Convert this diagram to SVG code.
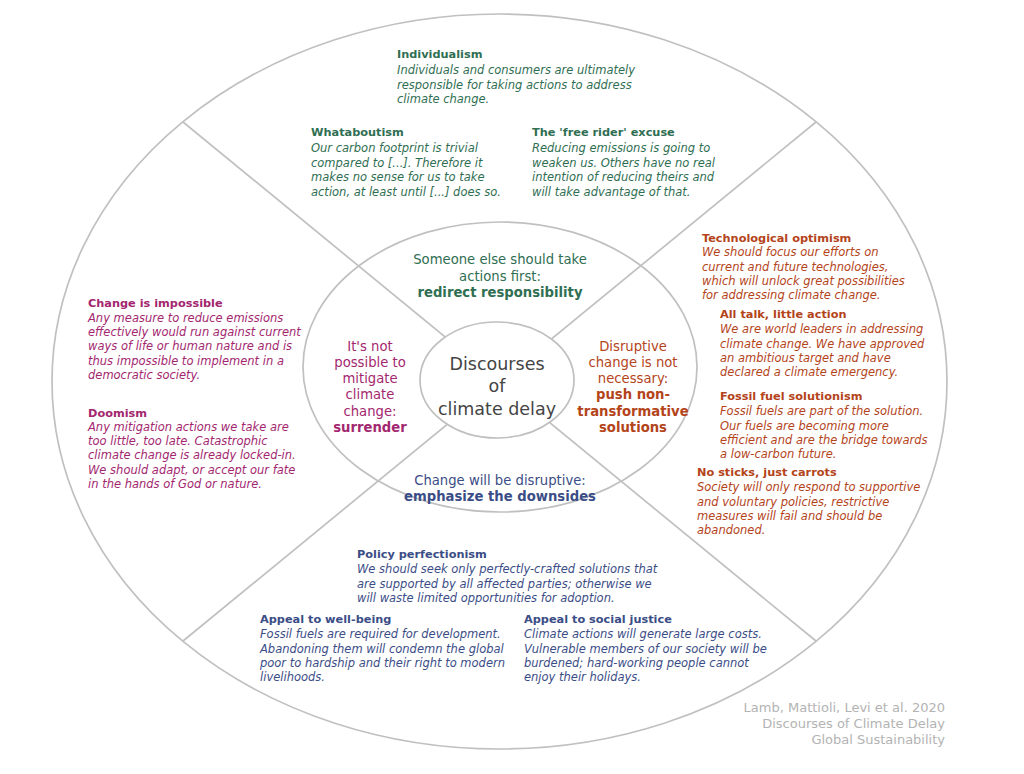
<svg xmlns="http://www.w3.org/2000/svg" width="1024" height="774" viewBox="0 0 1024 774">
<style>
text{font-family:"DejaVu Sans",Verdana,sans-serif}
.t{font-size:11.3px;font-weight:bold}
.b{font-size:11.5px;font-style:italic}
.g{fill:#2f6e52}
.m{fill:#a3276f}
.o{fill:#b4441a}
.u{fill:#3b4d86}
.c{font-size:13.2px;text-anchor:middle}
.bold{font-weight:bold}
.ln{stroke:#c0c0c0;stroke-width:1.7;fill:none}
.foot{font-size:13px;fill:#b3b3b3;text-anchor:end}
</style>
<rect width="1024" height="774" fill="#fff"/>
<g id="connectors">
<line class="ln" x1="183" y1="122" x2="816" y2="641"/>
<line class="ln" x1="816" y1="122" x2="183" y2="641"/>
</g>
<g id="outer"><ellipse class="ln" cx="499.5" cy="381.5" rx="447.5" ry="367.5"/></g>
<g id="middle"><ellipse class="ln" cx="500" cy="367" rx="197" ry="145"/></g>
<g id="center">
<ellipse class="ln" cx="497" cy="380" rx="77" ry="58" style="fill:#fff"/>
<text x="497" y="370" text-anchor="middle" font-size="17.5" fill="#444">Discourses</text>
<text x="497" y="392" text-anchor="middle" font-size="17.5" fill="#444">of</text>
<text x="497" y="415" text-anchor="middle" font-size="17.5" fill="#444">climate delay</text>
</g>
<g id="cat-redirect">
<text class="c g" x="500" y="264">Someone else should take</text>
<text class="c g" x="500" y="281">actions first:</text>
<text class="c g bold" x="500" y="297">redirect responsibility</text>
</g>
<g id="cat-surrender">
<text class="c m" x="370" y="351">It's not</text>
<text class="c m" x="370" y="367">possible to</text>
<text class="c m" x="370" y="383">mitigate</text>
<text class="c m" x="370" y="399">climate</text>
<text class="c m" x="370" y="416">change:</text>
<text class="c m bold" x="370" y="432">surrender</text>
</g>
<g id="cat-nontransformative">
<text class="c o" x="633" y="351">Disruptive</text>
<text class="c o" x="633" y="367">change is not</text>
<text class="c o" x="633" y="383">necessary:</text>
<text class="c o bold" x="633" y="399">push non-</text>
<text class="c o bold" x="633" y="416">transformative</text>
<text class="c o bold" x="633" y="432">solutions</text>
</g>
<g id="cat-downsides">
<text class="c u" x="500" y="485">Change will be disruptive:</text>
<text class="c u bold" x="500" y="501">emphasize the downsides</text>
</g>
<g id="individualism">
<text class="t g" x="397" y="58">Individualism</text>
<text class="b g" x="397" y="74">Individuals and consumers are ultimately</text>
<text class="b g" x="397" y="88.5">responsible for taking actions to address</text>
<text class="b g" x="397" y="103">climate change.</text>
</g>
<g id="whataboutism">
<text class="t g" x="311" y="136">Whataboutism</text>
<text class="b g" x="311" y="152">Our carbon footprint is trivial</text>
<text class="b g" x="311" y="166.5">compared to [...]. Therefore it</text>
<text class="b g" x="311" y="181">makes no sense for us to take</text>
<text class="b g" x="311" y="195.5">action, at least until [...] does so.</text>
</g>
<g id="free-rider">
<text class="t g" x="532" y="136">The 'free rider' excuse</text>
<text class="b g" x="532" y="152">Reducing emissions is going to</text>
<text class="b g" x="532" y="166.5">weaken us. Others have no real</text>
<text class="b g" x="532" y="181">intention of reducing theirs and</text>
<text class="b g" x="532" y="195.5">will take advantage of that.</text>
</g>
<g id="change-impossible">
<text class="t m" x="88" y="307">Change is impossible</text>
<text class="b m" x="88" y="321.5">Any measure to reduce emissions</text>
<text class="b m" x="88" y="335.5">effectively would run against current</text>
<text class="b m" x="88" y="350">ways of life or human nature and is</text>
<text class="b m" x="88" y="364.5">thus impossible to implement in a</text>
<text class="b m" x="88" y="378.5">democratic society.</text>
</g>
<g id="doomism">
<text class="t m" x="88" y="417">Doomism</text>
<text class="b m" x="88" y="430.5">Any mitigation actions we take are</text>
<text class="b m" x="88" y="445">too little, too late. Catastrophic</text>
<text class="b m" x="88" y="459">climate change is already locked-in.</text>
<text class="b m" x="88" y="473.5">We should adapt, or accept our fate</text>
<text class="b m" x="88" y="488">in the hands of God or nature.</text>
</g>
<g id="tech-optimism">
<text class="t o" x="702" y="242">Technological optimism</text>
<text class="b o" x="702" y="256">We should focus our efforts on</text>
<text class="b o" x="702" y="270.5">current and future technologies,</text>
<text class="b o" x="702" y="285">which will unlock great possibilities</text>
<text class="b o" x="702" y="299">for addressing climate change.</text>
</g>
<g id="all-talk">
<text class="t o" x="720" y="318">All talk, little action</text>
<text class="b o" x="720" y="333">We are world leaders in addressing</text>
<text class="b o" x="720" y="347.5">climate change. We have approved</text>
<text class="b o" x="720" y="361.5">an ambitious target and have</text>
<text class="b o" x="720" y="376">declared a climate emergency.</text>
</g>
<g id="fossil-solutionism">
<text class="t o" x="720" y="400">Fossil fuel solutionism</text>
<text class="b o" x="720" y="415">Fossil fuels are part of the solution.</text>
<text class="b o" x="720" y="429.5">Our fuels are becoming more</text>
<text class="b o" x="720" y="443.5">efficient and are the bridge towards</text>
<text class="b o" x="720" y="458">a low-carbon future.</text>
</g>
<g id="no-sticks">
<text class="t o" x="697" y="476">No sticks, just carrots</text>
<text class="b o" x="697" y="491">Society will only respond to supportive</text>
<text class="b o" x="697" y="505.5">and voluntary policies, restrictive</text>
<text class="b o" x="697" y="519.5">measures will fail and should be</text>
<text class="b o" x="697" y="534">abandoned.</text>
</g>
<g id="policy-perfectionism">
<text class="t u" x="357" y="558">Policy perfectionism</text>
<text class="b u" x="357" y="573">We should seek only perfectly-crafted solutions that</text>
<text class="b u" x="357" y="587.5">are supported by all affected parties; otherwise we</text>
<text class="b u" x="357" y="601.5">will waste limited opportunities for adoption.</text>
</g>
<g id="well-being">
<text class="t u" x="260" y="623">Appeal to well-being</text>
<text class="b u" x="260" y="638">Fossil fuels are required for development.</text>
<text class="b u" x="260" y="652.5">Abandoning them will condemn the global</text>
<text class="b u" x="260" y="666.5">poor to hardship and their right to modern</text>
<text class="b u" x="260" y="681">livelihoods.</text>
</g>
<g id="social-justice">
<text class="t u" x="524" y="623">Appeal to social justice</text>
<text class="b u" x="524" y="638">Climate actions will generate large costs.</text>
<text class="b u" x="524" y="652.5">Vulnerable members of our society will be</text>
<text class="b u" x="524" y="666.5">burdened; hard-working people cannot</text>
<text class="b u" x="524" y="681">enjoy their holidays.</text>
</g>
<g id="citation">
<text class="foot" x="945" y="712">Lamb, Mattioli, Levi et al. 2020</text>
<text class="foot" x="945" y="728">Discourses of Climate Delay</text>
<text class="foot" x="945" y="744">Global Sustainability</text>
</g>
</svg>
